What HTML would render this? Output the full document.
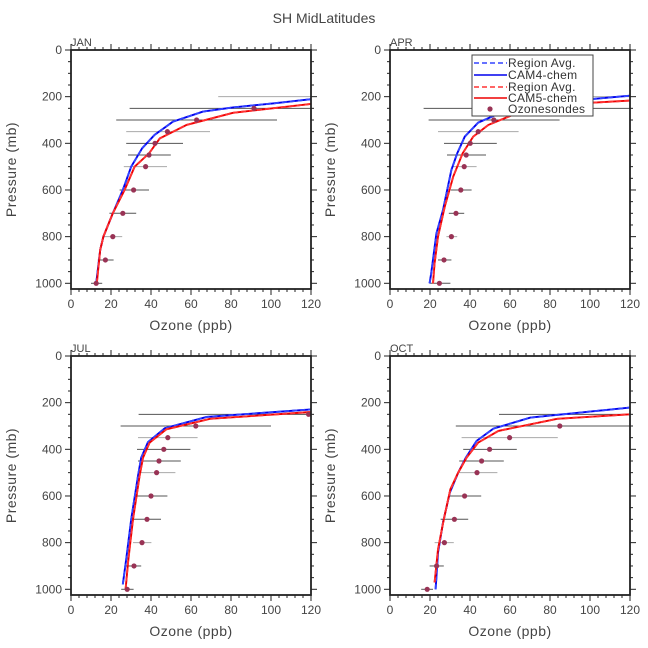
<!DOCTYPE html>
<html><head><meta charset="utf-8"><style>
body{margin:0;background:#fff;}
svg{display:block;font-family:"Liberation Sans",sans-serif;}
</style></head><body>
<svg id="chart" width="648" height="648" viewBox="0 0 648 648">
<text x="324" y="23" text-anchor="middle" font-size="14" fill="#444">SH MidLatitudes</text>
</svg>
<script>
const xTicks = [0,20,40,60,80,100,120];
const yTicks = [0,200,400,600,800,1000];
const panelNames = ["JAN","APR","JUL","OCT"];
const sondeLevels = [200,250,300,350,400,450,500,600,700,800,900,1000];
const janSonde = [130,91.5,62.8,48.2,42,39,37.3,31.3,25.9,20.9,17.2,12.6];
const janLo = [73.6,29.3,22.6,27.6,27.6,28.5,26.4,24.3,19.2,15.9,13.4,10];
const janHi = [125,125,103,69.5,56,49.9,48,39,32.6,25.6,21.3,15.6];
const aprSonde = [130,50.4,51.9,44.1,40.1,38.1,37.1,35.4,33,30.7,27,24.7];
const aprLo = [82,16.8,19.3,24,27,28.5,31.6,30.4,29.4,28.2,24,19.8];
const aprHi = [125,125,84.8,64.3,53.4,48,43.3,40.8,37.1,33.6,30.7,30.2];
const julSonde = [130,118.8,62.4,48.4,46.4,44,42.8,40,38,35.5,31.5,28.1];
const julLo = [130,33.8,24.8,33.5,33,33.5,34.3,32.6,31.3,31,27.6,25.1];
const julHi = [130,125,100,63.3,59.7,54.9,52.2,48.2,45,40.2,35.1,31.3];
const octSonde = [130,130,84.9,59.8,49.8,45.8,43.5,37.3,32.2,27.2,23.3,18.6];
const octLo = [130,54.5,32.9,35.8,36.6,34.6,33.6,29,25.3,22.3,19.8,15.6];
const octHi = [130,125,125,83.9,63.4,56.9,53.7,45.6,39.1,31.9,26.9,21.5];
const janCam4P = [1000,857,800,700,600,500,421,364,307,264,246,229,211];
const janCam4V = [12.6,14.6,16.2,20.9,25.9,30.1,35.6,41.8,51,66,81,101,120];
const janCam5P = [1000,857,800,700,600,500,443,379,321,269,231];
const janCam5V = [12.9,14.6,16.2,20.9,26.8,31.8,39,44.4,57.8,81,120];
const aprCam4P = [1000,957,786,686,514,443,371,311,264,231,196];
const aprCam4V = [19.8,20.6,23.2,26.5,30.7,33.6,37.4,44.1,56.7,73.5,120];
const aprCam5P = [1000,914,800,671,543,443,371,321,271,231,217];
const aprCam5V = [21.5,22.3,24,27.4,31.6,36.3,41.6,49.2,63.4,90.3,120];
const julCam4P = [979,871,700,514,436,369,310,261,229];
const julCam4V = [25.9,27.6,30.1,33.5,35.1,38.5,46.9,67.8,120];
const julCam5P = [1000,886,700,514,436,371,314,269,240];
const julCam5V = [27.3,28.5,31,34.3,36,39.3,47.7,69.5,120];
const octCam4P = [1000,843,714,586,500,436,364,311,264,221];
const octCam4V = [22.8,24,26.5,29.9,34.1,37.9,43.3,51.7,70.2,120];
const octCam5P = [971,829,700,571,500,436,371,321,269,250];
const octCam5V = [22.3,24,26.9,30.2,34.1,38.3,44.1,54.2,83.6,120];

const NS = "http://www.w3.org/2000/svg";
const svg = document.getElementById('chart');
function mk(tag, attrs, parent){const e=document.createElementNS(NS,tag);for(const k in attrs)e.setAttribute(k,attrs[k]);(parent||svg).appendChild(e);return e;}

const panels = [
 {x0:71,x1:311,y0:50,yb:289,s:janSonde,lo:janLo,hi:janHi,c4p:janCam4P,c4v:janCam4V,c5p:janCam5P,c5v:janCam5V,legend:false},
 {x0:390,x1:630,y0:50,yb:289,s:aprSonde,lo:aprLo,hi:aprHi,c4p:aprCam4P,c4v:aprCam4V,c5p:aprCam5P,c5v:aprCam5V,legend:true},
 {x0:71,x1:311,y0:356,yb:595,s:julSonde,lo:julLo,hi:julHi,c4p:julCam4P,c4v:julCam4V,c5p:julCam5P,c5v:julCam5V,legend:false},
 {x0:390,x1:630,y0:356,yb:595,s:octSonde,lo:octLo,hi:octHi,c4p:octCam4P,c4v:octCam4V,c5p:octCam5P,c5v:octCam5V,legend:false}
];

panels.forEach((p,i)=>{
  const g = mk('g',{});
  
  
  const xs = v => p.x0 + (v/120)*(p.x1-p.x0);
  const ys = v => p.y0 + v*0.2333;
  const clip = 'clip'+i;
  const cp = mk('clipPath',{id:clip},g);
  mk('rect',{x:p.x0,y:p.y0,width:p.x1-p.x0,height:p.yb-p.y0},cp);
  const plot = mk('g',{'clip-path':'url(#'+clip+')'},g);
  sondeLevels.forEach((lev,j)=>{
    const light = (lev===200||lev===350||lev===500||lev===800);
    const b = mk('line',{x1:xs(p.lo[j]),x2:xs(p.hi[j]),y1:ys(lev),y2:ys(lev),stroke:light?'#aaa':'#555','stroke-width':1},plot);
    
    
  });
  function curve(P,V,color,dash){
    const d = P.map((pp,k)=>(k?'L':'M')+xs(V[k]).toFixed(1)+','+ys(pp).toFixed(1)).join('');
    const e = mk('path',{d:d,fill:'none',stroke:color,'stroke-width':1.9},plot);
    if(dash) e.setAttribute('stroke-dasharray','5,3');
    return e;
  }
  const c4 = curve(p.c4p,p.c4v,'#0000ee',false);
  
  
  const c4d = curve(p.c4p,p.c4v,'#3344ff',true);
  
  
  const c5 = curve(p.c5p,p.c5v,'#ee0000',false);
  
  
  const c5d = curve(p.c5p,p.c5v,'#ff3333',true);
  
  
  sondeLevels.forEach((lev,j)=>{
    const c = mk('circle',{cx:xs(p.s[j]),cy:ys(lev),r:2.6,fill:'#993355'},plot);
    
    
  });
  const fr = mk('rect',{x:p.x0,y:p.y0,width:p.x1-p.x0,height:p.yb-p.y0,fill:'none',stroke:'#222','stroke-width':1.8},g);
  
  
  for(let v=0;v<=120;v+=4){
    const maj = v%20===0, L = maj?6:3;
    mk('line',{x1:xs(v),x2:xs(v),y1:p.y0,y2:p.y0-L,stroke:'#222','stroke-width':1},g);
    mk('line',{x1:xs(v),x2:xs(v),y1:p.yb,y2:p.yb+L,stroke:'#222','stroke-width':1},g);
  }
  xTicks.forEach(v=>{
    const t = mk('text',{x:xs(v),y:p.yb+19,'text-anchor':'middle','font-size':12,fill:'#444'},g);
    t.textContent = v;
    
    
  });
  for(let v=0;v<=1000;v+=50){
    const maj = v%200===0, L = maj?6:3;
    mk('line',{x1:p.x0,x2:p.x0-L,y1:ys(v),y2:ys(v),stroke:'#222','stroke-width':1},g);
    mk('line',{x1:p.x1,x2:p.x1+L,y1:ys(v),y2:ys(v),stroke:'#222','stroke-width':1},g);
  }
  yTicks.forEach(v=>{
    const t = mk('text',{x:p.x0-9,y:ys(v)+4,'text-anchor':'end','font-size':12,fill:'#444'},g);
    t.textContent = v;
    
    
  });
  const xt = mk('text',{x:(p.x0+p.x1)/2,y:p.yb+41,'text-anchor':'middle','font-size':14,fill:'#444','letter-spacing':'0.5'},g);
  xt.textContent = 'Ozone (ppb)';
  
  
  const cy = (p.y0+p.yb)/2;
  const tx = p.x0-55;
  const yt = mk('text',{x:tx,y:cy,'text-anchor':'middle','font-size':14,fill:'#444','letter-spacing':'0.5',transform:'rotate(-90 '+tx+' '+cy+')'},g);
  yt.textContent = 'Pressure (mb)';
  
  
  const pt = mk('text',{x:p.x0,y:p.y0-4,'font-size':11,fill:'#444'},g);
  pt.textContent = panelNames[i];
  
  
  if(p.legend){
    const lg = mk('g',{},g);
    
    
    mk('rect',{x:472,y:55,width:121,height:61,fill:'#fff',stroke:'#444','stroke-width':1},lg);
    const items=[['Region Avg.','#3344ff','5,3'],['CAM4-chem','#0000ee',''],['Region Avg.','#ff3333','5,3'],['CAM5-chem','#ee0000',''],['Ozonesondes','#993355','dot']];
    const rows=[63,75,87,98,109];
    items.forEach((it,k)=>{
      const e = mk('g',{},lg);
      
      
      if(it[2]==='dot'){ mk('circle',{cx:490,cy:rows[k],r:2.6,fill:it[1]},e); }
      else { const l=mk('line',{x1:474,x2:507,y1:rows[k],y2:rows[k],stroke:it[1],'stroke-width':1.6},e); if(it[2]) l.setAttribute('stroke-dasharray',it[2]); }
      const t = mk('text',{x:508,y:rows[k]+4,'font-size':12,fill:'#333','letter-spacing':'0.3'},e);
      t.textContent = it[0];
    });
  }
});
</script>
</body></html>
